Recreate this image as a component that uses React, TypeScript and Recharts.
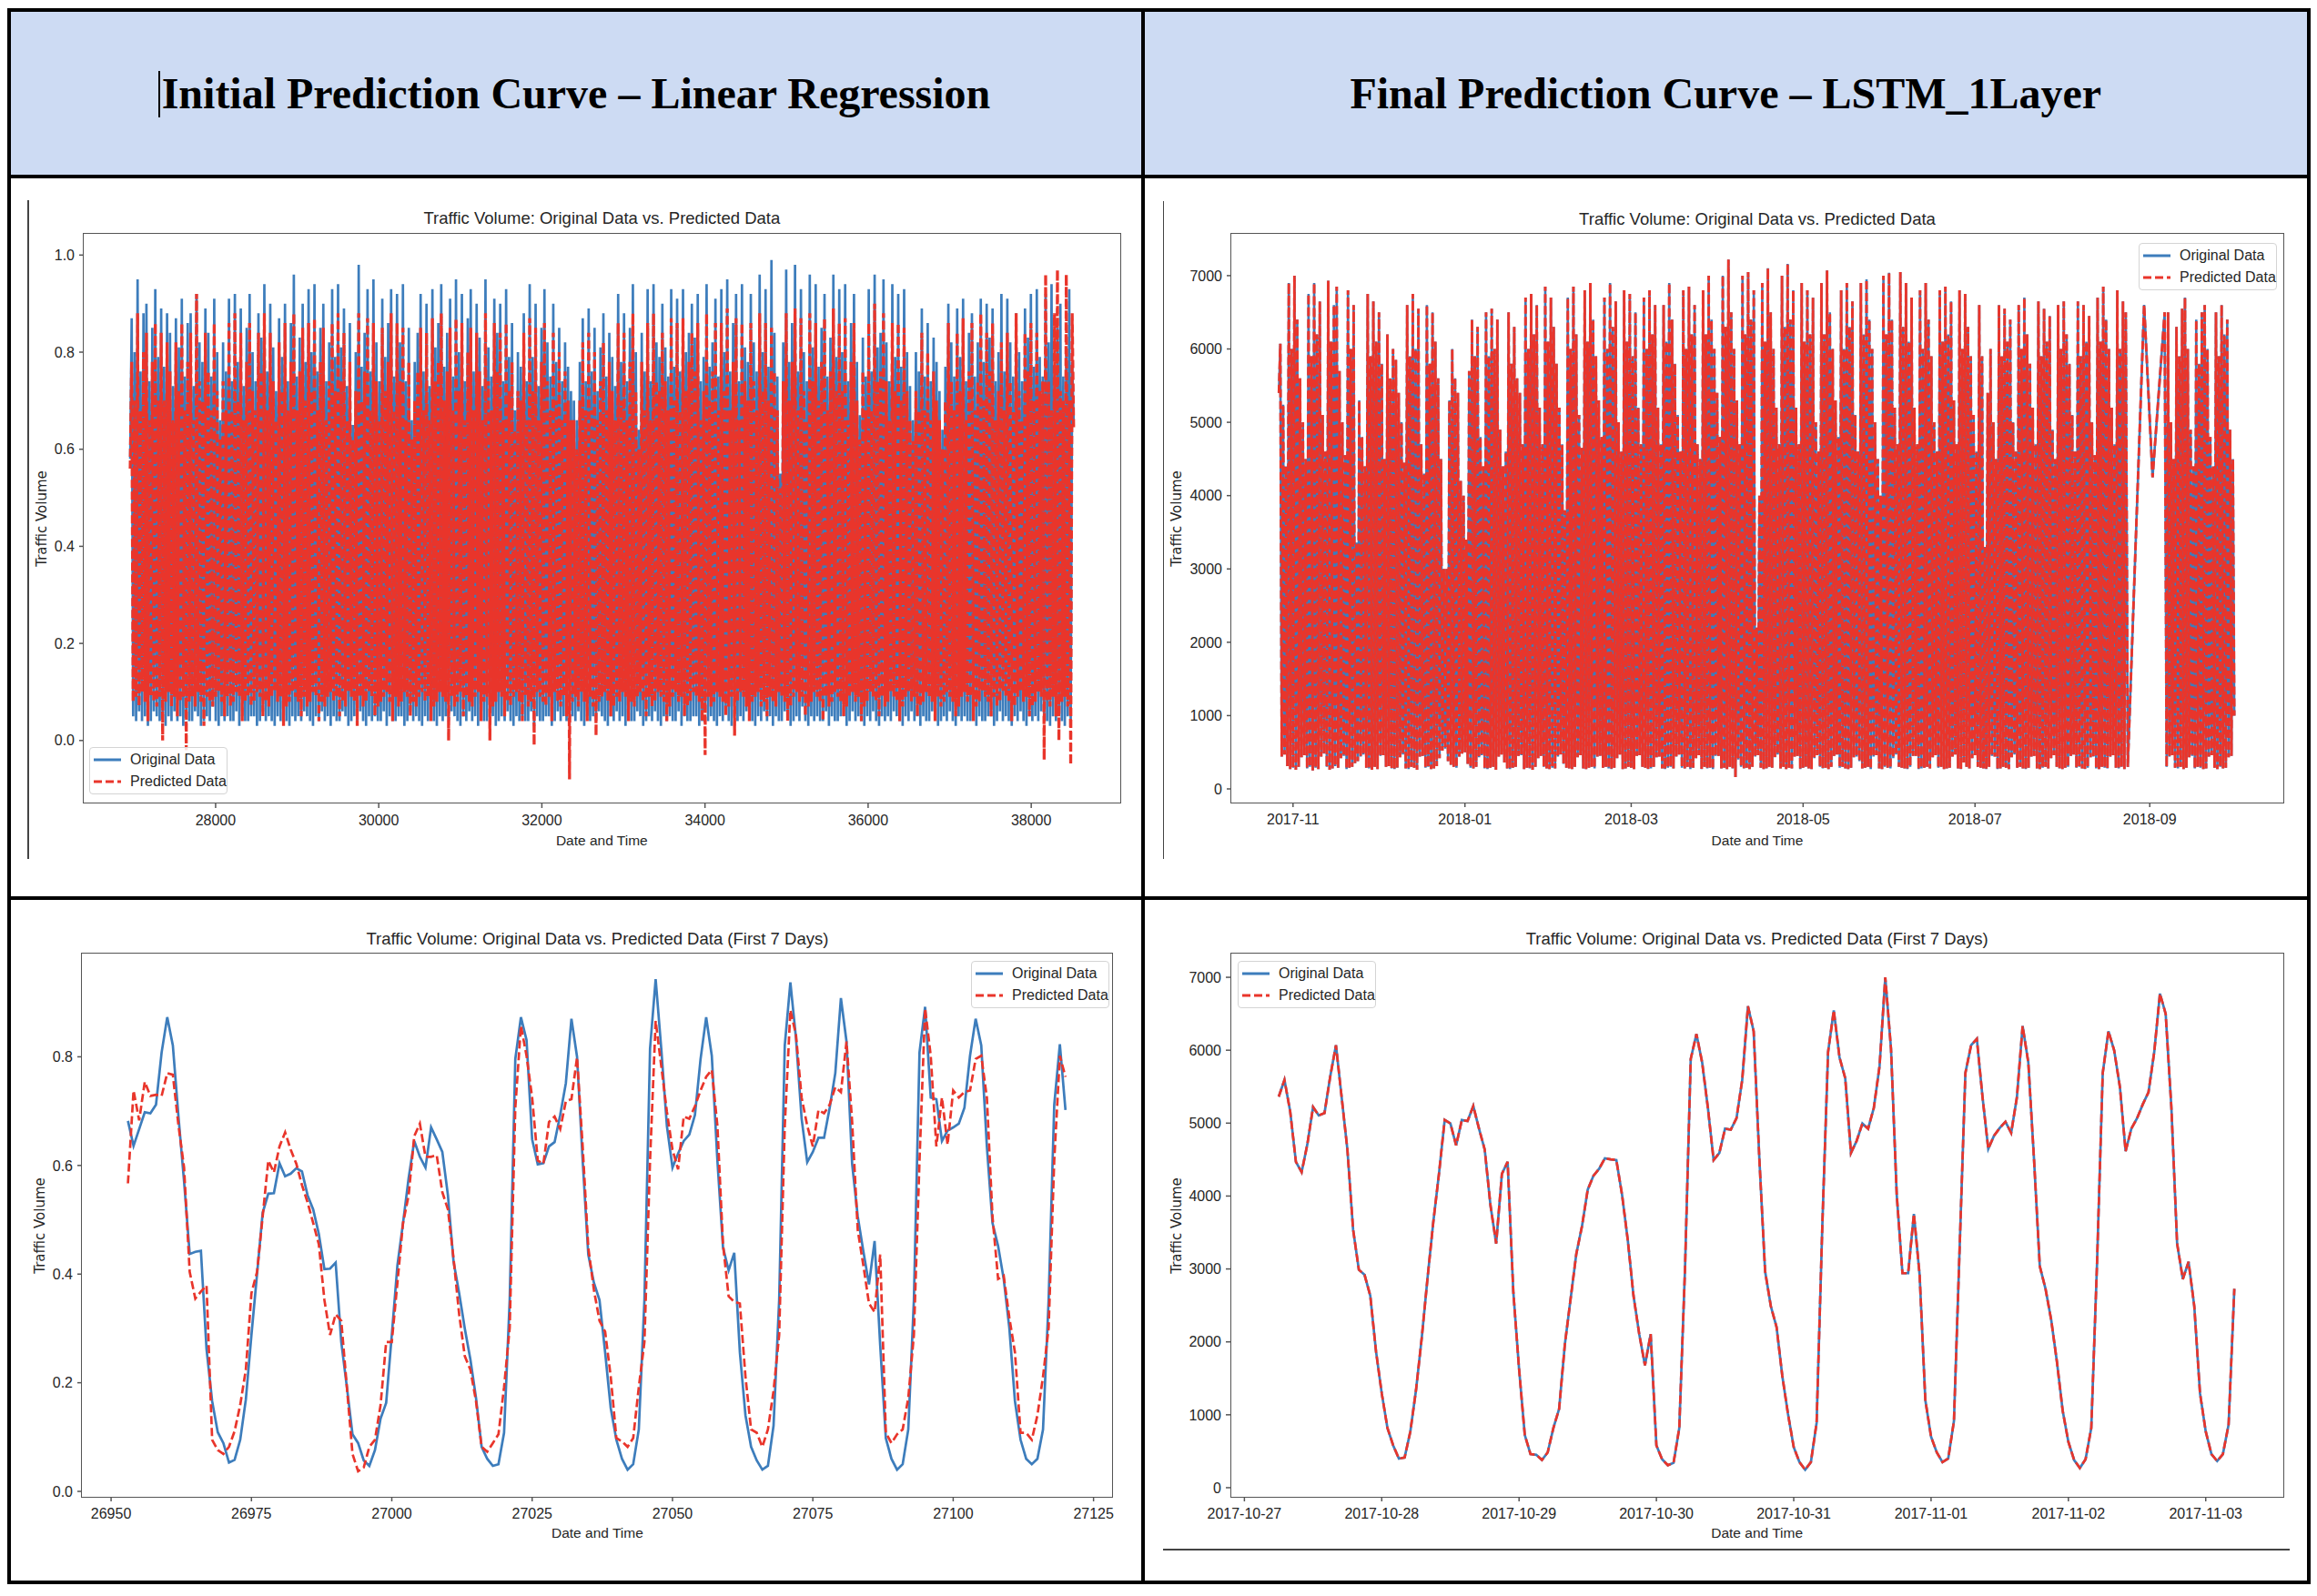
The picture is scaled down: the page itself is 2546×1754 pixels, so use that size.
import React from "react";
import { LineChart, Line, XAxis, YAxis, Legend } from "recharts";

// Linear regression, whole test range (x = sample index). Each daily swing is kept as one
// trough + one peak, values in hundredths, read off the dense envelope of the picture.
const lrFullStart = 26953;
const lrFullEnd = 38520;
const lrFullOriginalPeaks = [
  87, 80, 95, 76, 88, 90, 74, 85, 93, 79, 89, 77, 88, 84, 73, 87, 81, 91, 75, 86,
  88, 73, 92, 82, 78, 89, 84, 75, 91, 80, 66, 82, 76, 91, 74, 92, 78, 89, 73, 85,
  92, 80, 74, 88, 83, 94, 76, 90, 81, 72, 87, 79, 90, 74, 86, 96, 75, 83, 90, 78,
  93, 80, 94, 76, 85, 90, 74, 82, 93, 79, 94, 81, 89, 73, 86, 65, 80, 98, 77, 84,
  93, 76, 95, 82, 74, 91, 79, 86, 93, 75, 92, 82, 94, 74, 85, 66, 78, 84, 92, 76,
  90, 73, 93, 81, 86, 94, 77, 84, 91, 75, 95, 80, 92, 74, 87, 93, 76, 90, 83, 73,
  95, 81, 75, 91, 84, 90, 74, 93, 79, 86, 68, 80, 77, 88, 74, 94, 79, 90, 73, 85,
  93, 82, 75, 90, 78, 85, 74, 82, 77, 72, 70, 66, 78, 87, 74, 89, 76, 85, 72, 81,
  88, 75, 84, 79, 73, 92, 78, 88, 74, 85, 94, 80, 64, 84, 76, 93, 74, 94, 82, 79,
  90, 81, 75, 93, 77, 91, 76, 93, 80, 84, 90, 83, 92, 74, 79, 94, 77, 82, 91, 75,
  93, 80, 95, 76, 86, 92, 74, 94, 81, 78, 92, 82, 76, 96, 80, 93, 77, 99, 84, 75,
  55, 82, 97, 78, 86, 98, 76, 93, 80, 74, 96, 81, 94, 77, 85, 92, 75, 83, 96, 79,
  93, 80, 94, 74, 86, 92, 78, 67, 83, 75, 93, 76, 96, 81, 84, 95, 82, 74, 94, 79,
  92, 77, 93, 80, 73, 66, 80, 76, 89, 75, 86, 74, 83, 78, 72, 64, 77, 90, 82, 75,
  89, 79, 91, 74, 84, 88, 75, 82, 91, 78, 90, 83, 89, 74, 80, 92, 76, 91, 82, 75,
  88, 80, 74, 89, 83, 92, 77, 93, 79, 75, 92, 82, 94, 76, 85, 90, 75, 81, 93, 78,
];
const lrFullPredictedPeaks = [
  78, 70, 88, 68, 80, 84, 66, 78, 86, 70, 84, 70, 82, 76, 66, 82, 72, 86, 68, 78,
  84, 66, 92, 74, 70, 84, 76, 68, 86, 72, 62, 74, 68, 86, 68, 88, 70, 84, 66, 78,
  86, 72, 68, 84, 76, 88, 68, 84, 74, 66, 82, 72, 86, 68, 78, 88, 68, 76, 85, 70,
  86, 72, 87, 68, 78, 85, 66, 74, 86, 72, 88, 74, 84, 66, 78, 62, 72, 88, 70, 76,
  87, 68, 86, 74, 66, 85, 72, 78, 88, 68, 86, 74, 85, 66, 78, 62, 70, 76, 85, 68,
  84, 66, 87, 74, 78, 88, 70, 76, 85, 68, 87, 72, 86, 66, 80, 85, 68, 84, 76, 66,
  88, 74, 68, 86, 76, 84, 66, 86, 72, 78, 64, 72, 70, 84, 66, 87, 72, 85, 66, 78,
  86, 74, 68, 84, 70, 80, 66, 76, 70, 66, 66, 60, 70, 82, 68, 84, 68, 80, 66, 74,
  82, 68, 78, 72, 66, 86, 70, 84, 66, 78, 88, 72, 60, 78, 68, 86, 66, 88, 74, 72,
  84, 74, 68, 87, 70, 86, 68, 87, 72, 78, 84, 76, 86, 66, 72, 88, 70, 76, 86, 68,
  86, 72, 89, 68, 78, 87, 66, 86, 74, 70, 86, 74, 68, 88, 72, 86, 70, 85, 76, 68,
  52, 74, 88, 70, 78, 89, 68, 87, 72, 66, 88, 74, 86, 70, 78, 87, 68, 76, 89, 72,
  86, 72, 87, 66, 78, 86, 70, 62, 76, 68, 86, 68, 90, 74, 76, 88, 74, 66, 86, 72,
  86, 70, 85, 72, 66, 62, 72, 68, 84, 68, 80, 66, 76, 70, 66, 60, 70, 86, 74, 68,
  84, 72, 87, 66, 76, 86, 68, 74, 88, 70, 84, 76, 86, 66, 72, 82, 68, 84, 74, 68,
  88, 72, 66, 84, 76, 86, 70, 84, 72, 74, 96, 74, 68, 88, 97, 72, 70, 96, 70, 88,
];
const lrFullOriginalTroughs = [
  58, 5, 4, 6, 4, 5, 3, 4, 6, 5, 4, 5, 3, 5, 4, 6, 4, 5, 3, 5,
  4, 4, 6, 5, 3, 4, 5, 4, 7, 4, 3, 5, 4, 5, 4, 4, 6, 3, 5, 4,
  4, 5, 5, 3, 4, 6, 4, 5, 4, 3, 5, 4, 6, 4, 3, 5, 4, 5, 4, 6,
  5, 4, 3, 5, 4, 6, 4, 5, 3, 5, 4, 4, 6, 5, 3, 4, 5, 4, 6, 4,
  3, 5, 4, 5, 4, 4, 6, 3, 5, 4, 4, 5, 5, 3, 4, 6, 4, 5, 4, 3,
  5, 4, 6, 4, 3, 5, 4, 5, 4, 6, 5, 4, 3, 5, 4, 6, 4, 5, 3, 5,
  4, 4, 6, 5, 3, 4, 5, 4, 6, 4, 3, 5, 4, 5, 4, 4, 6, 3, 5, 4,
  4, 5, 5, 3, 4, 6, 4, 5, 4, 3, 5, 4, 6, 4, 3, 5, 4, 5, 4, 6,
  5, 4, 3, 5, 4, 6, 4, 5, 3, 5, 4, 4, 6, 5, 3, 4, 5, 4, 6, 4,
  3, 5, 4, 5, 4, 4, 6, 3, 5, 4, 4, 5, 5, 3, 4, 6, 4, 5, 4, 3,
  5, 4, 6, 4, 3, 5, 4, 5, 4, 6, 5, 4, 3, 5, 4, 6, 4, 5, 3, 5,
  4, 4, 6, 5, 3, 4, 5, 4, 7, 4, 3, 5, 4, 5, 4, 4, 6, 3, 5, 4,
  4, 5, 5, 3, 4, 6, 4, 5, 4, 3, 5, 4, 6, 4, 3, 5, 4, 5, 4, 6,
  5, 4, 3, 5, 4, 6, 4, 5, 3, 5, 4, 4, 6, 5, 3, 4, 5, 4, 6, 4,
  3, 5, 4, 5, 4, 4, 6, 3, 5, 4, 4, 5, 5, 3, 4, 6, 4, 5, 4, 3,
  5, 4, 6, 4, 3, 5, 4, 5, 4, 6, 5, 4, 3, 5, 4, 6, 4, 3, 5, 4,
  66,
];
const lrFullPredictedTroughs = [
  56, 8, 9, 7, 10, 8, 4, 9, 8, 7, 9, 0, 8, 10, 7, 9, 5, 8, 9, -2,
  8, 9, 7, 10, 8, 3, 9, 8, 7, 9, 10, 8, 5, 9, 7, 8, 10, 9, 4, 8,
  9, 7, 8, 10, 9, 5, 8, 7, 9, 10, 8, 9, 3, 7, 8, 10, 9, 8, 5, 9,
  7, 8, 10, 9, 4, 8, 7, 9, 10, 8, 9, 5, 8, 7, 10, 9, 8, 3, 9, 7,
  8, 10, 9, 5, 7, 8, 9, 10, 8, 4, 9, 7, 8, 10, 9, 5, 8, 7, 9, 10,
  8, 9, 4, 7, 8, 10, 9, 8, 0, 9, 7, 8, 10, 5, 9, 8, 7, 9, 10, 4,
  8, 9, 0, 7, 8, 10, 9, 5, 8, 7, 9, 10, 8, 4, 9, 7, 8, -1, 10, 9,
  8, 7, 9, 4, 10, 8, 7, 9, 5, -8, 8, 9, 7, 10, 8, 4, 9, 7, 1, 8,
  9, 10, 8, 5, 7, 9, 8, 10, 9, 4, 8, 7, 9, 10, 8, 5, 9, 7, 8, 10,
  9, 8, 4, 7, 9, 10, 8, 9, 5, 7, 8, 10, 9, 8, 4, -3, 9, 7, 8, 10,
  9, 8, 5, 7, 9, 1, 8, 10, 9, 7, 4, 8, 9, 10, 7, 8, 5, 9, 8, 7,
  10, 9, 8, 4, 7, 9, 10, 8, 9, 5, 7, 8, 10, 9, 8, 4, 9, 7, 8, 10,
  9, 8, 5, 7, 9, 10, 8, 9, 4, 7, 8, 10, 9, 8, 5, 9, 7, 8, 10, 9,
  8, 4, 7, 9, 10, 8, 9, 5, 7, 8, 10, 9, 8, 4, 9, 7, 8, 10, 9, 8,
  5, 7, 9, 10, 8, 9, 4, 7, 8, 10, 9, 8, 5, 9, 7, 8, 10, 9, 8, 4,
  7, 9, 10, 8, 9, 5, 7, 8, 10, 9, -4, 8, 7, 9, 5, 0, 8, 9, 7, -5,
  64,
];
const lrFullXTicks = [28000, 30000, 32000, 34000, 36000, 38000];
const lrFullYTicks = [0, 0.2, 0.4, 0.6, 0.8, 1.0];

// Linear regression, first 7 days (hourly samples)
const lrWeekStart = 26953;
const lrWeekOriginal = [
  0.682, 0.636, 0.667, 0.698, 0.696, 0.712, 0.808, 0.873, 0.821, 0.69,
  0.57, 0.437, 0.441, 0.443, 0.262, 0.166, 0.109, 0.089, 0.053, 0.058,
  0.095, 0.169, 0.288, 0.4, 0.513, 0.548, 0.549, 0.604, 0.58, 0.585,
  0.595, 0.589, 0.545, 0.519, 0.474, 0.409, 0.41, 0.421, 0.275, 0.192,
  0.105, 0.089, 0.057, 0.047, 0.076, 0.134, 0.163, 0.288, 0.416, 0.494,
  0.577, 0.645, 0.616, 0.596, 0.67, 0.648, 0.625, 0.545, 0.423, 0.365,
  0.3, 0.243, 0.172, 0.082, 0.06, 0.047, 0.05, 0.108, 0.352, 0.796,
  0.873, 0.831, 0.648, 0.602, 0.604, 0.635, 0.643, 0.693, 0.751, 0.87,
  0.8, 0.609, 0.436, 0.384, 0.352, 0.256, 0.153, 0.095, 0.06, 0.04,
  0.05, 0.114, 0.352, 0.815, 0.943, 0.815, 0.673, 0.596, 0.622, 0.645,
  0.657, 0.693, 0.796, 0.873, 0.802, 0.609, 0.449, 0.407, 0.439, 0.256,
  0.14, 0.082, 0.057, 0.04, 0.047, 0.121, 0.352, 0.821, 0.937, 0.834,
  0.686, 0.606, 0.625, 0.651, 0.651, 0.706, 0.77, 0.908, 0.828, 0.603,
  0.506, 0.442, 0.381, 0.461, 0.269, 0.098, 0.06, 0.04, 0.05, 0.114,
  0.352, 0.808, 0.892, 0.725, 0.722, 0.645, 0.664, 0.67, 0.677, 0.706,
  0.802, 0.87, 0.821, 0.635, 0.494, 0.452, 0.391, 0.301, 0.166, 0.095,
  0.06, 0.05, 0.06, 0.114, 0.352, 0.712, 0.823, 0.702,
];
const lrWeekPredicted = [
  0.567, 0.738, 0.683, 0.754, 0.728, 0.73, 0.728, 0.77, 0.767, 0.674,
  0.596, 0.404, 0.355, 0.368, 0.379, 0.095, 0.076, 0.069, 0.082, 0.111,
  0.159, 0.224, 0.365, 0.404, 0.506, 0.609, 0.587, 0.635, 0.661, 0.629,
  0.603, 0.564, 0.532, 0.494, 0.455, 0.352, 0.288, 0.326, 0.314, 0.192,
  0.069, 0.037, 0.044, 0.082, 0.095, 0.159, 0.275, 0.275, 0.384, 0.494,
  0.545, 0.654, 0.677, 0.616, 0.616, 0.619, 0.551, 0.519, 0.429, 0.326,
  0.249, 0.224, 0.166, 0.082, 0.073, 0.089, 0.105, 0.192, 0.301, 0.706,
  0.857, 0.802, 0.725, 0.609, 0.603, 0.68, 0.69, 0.667, 0.718, 0.722,
  0.799, 0.635, 0.449, 0.371, 0.314, 0.294, 0.211, 0.098, 0.092, 0.082,
  0.098, 0.192, 0.275, 0.609, 0.866, 0.783, 0.699, 0.629, 0.593, 0.69,
  0.686, 0.709, 0.738, 0.763, 0.776, 0.673, 0.455, 0.359, 0.349, 0.346,
  0.211, 0.114, 0.108, 0.082, 0.114, 0.185, 0.288, 0.673, 0.886, 0.84,
  0.725, 0.673, 0.635, 0.702, 0.696, 0.712, 0.744, 0.735, 0.828, 0.68,
  0.481, 0.416, 0.346, 0.33, 0.436, 0.108, 0.089, 0.105, 0.114, 0.172,
  0.288, 0.609, 0.889, 0.802, 0.635, 0.725, 0.638, 0.738, 0.725, 0.735,
  0.738, 0.796, 0.802, 0.725, 0.506, 0.391, 0.397, 0.32, 0.256, 0.108,
  0.108, 0.095, 0.14, 0.211, 0.301, 0.609, 0.802, 0.763,
];
const lrWeekXTicks = [26950, 26975, 27000, 27025, 27050, 27075, 27100, 27125];
const lrWeekYTicks = [0, 0.2, 0.4, 0.6, 0.8];

// LSTM, whole test range (x = days from 2017-11-01; one swing per day, values in tens).
// The prediction lies on the original within a line width, so both traces use these readings.
const lstmRunAStart = -5;
const lstmRunAPeaks = [
  607, 524, 440,
  690, 600, 700, 640, 560, 500, 450,
  675, 590, 690, 620, 665, 510, 460,
  693, 610, 660, 685, 570, 500, 455,
  680, 600, 660, 336, 530, 480, 440,
  675, 590, 665, 610, 650, 580, 450,
  620, 560, 600, 585, 540, 500, 445,
  660, 590, 675, 600, 655, 470, 430,
  660, 580, 650, 610, 560, 450, 300,
  300, 530, 600, 560, 540, 420, 400,
  340, 570, 640, 590, 630, 480, 440,
  650, 590, 655, 600, 640, 490, 440,
  460, 650, 580, 630, 560, 540, 470,
  670, 600, 675, 620, 660, 520, 470,
  685, 610, 670, 630, 580, 520, 470,
  380, 670, 600, 685, 620, 510, 465,
  680, 610, 690, 640, 590, 530, 480,
  670, 600, 690, 630, 665, 500, 460,
  680, 610, 675, 590, 650, 520, 470,
  670, 600, 680, 620, 660, 520, 470,
  660, 610, 690, 640, 580, 510, 460,
  680, 600, 685, 620, 660, 470, 450,
  680, 620, 700, 640, 600, 540, 480,
  700, 630, 722, 650, 600, 530, 470,
  700, 620, 705, 640, 680, 220, 400,
  690, 610, 710, 650, 600, 520, 470,
  700, 630, 716, 640, 680, 520, 470,
  690, 610, 680, 620, 670, 500, 460,
  690, 620, 707, 650, 600, 530, 480,
  680, 600, 690, 630, 665, 510, 460,
  690, 620, 695, 640, 600, 500, 450,
  400, 700, 620, 704, 640, 520, 470,
  705, 630, 690, 610, 670, 520, 470,
  680, 600, 690, 640, 590, 500, 460,
  680, 610, 685, 620, 665, 530, 470,
  680, 600, 675, 630, 590, 510, 460,
  660, 590, 330, 540, 600, 500, 450,
  660, 590, 655, 610, 640, 500, 460,
  660, 600, 670, 620, 580, 520, 470,
  665, 590, 655, 610, 645, 490, 450,
  660, 600, 665, 620, 580, 510, 460,
  665, 590, 660, 610, 645, 500, 455,
  670, 610, 685, 640, 600, 520, 470,
  680, 600, 665, 650,
];
const lstmRunATroughs = [
  540, 44, 47,
  31, 27, 29, 26, 30, 43, 46,
  28, 30, 25, 29, 27, 44, 48,
  30, 26, 28, 31, 29, 42, 45,
  27, 29, 30, 35, 38, 44, 47,
  29, 28, 26, 30, 27, 45, 46,
  30, 31, 28, 27, 29, 43, 47,
  28, 27, 30, 29, 26, 44, 45,
  29, 30, 27, 28, 31, 42, 52,
  55, 38, 33, 30, 29, 44, 48,
  50, 34, 29, 28, 30, 43, 46,
  28, 27, 29, 30, 26, 44, 47,
  36, 28, 27, 29, 30, 45, 46,
  27, 29, 28, 26, 30, 42, 45,
  30, 28, 27, 29, 28, 44, 47,
  34, 29, 28, 27, 30, 43, 46,
  28, 27, 29, 30, 28, 44, 45,
  29, 30, 28, 27, 29, 42, 47,
  27, 28, 30, 29, 27, 45, 46,
  30, 29, 27, 28, 30, 43, 44,
  28, 27, 29, 30, 28, 44, 47,
  29, 28, 30, 27, 29, 42, 46,
  27, 30, 28, 29, 27, 45, 45,
  28, 29, 27, 30, 28, 16, 40,
  30, 28, 29, 27, 30, 44, 46,
  29, 27, 28, 30, 29, 43, 47,
  28, 30, 27, 29, 28, 44, 45,
  27, 29, 30, 28, 27, 42, 46,
  30, 28, 29, 27, 30, 45, 47,
  29, 30, 28, 27, 29, 43, 44,
  38, 28, 29, 30, 27, 44, 46,
  28, 27, 30, 29, 28, 42, 47,
  30, 29, 28, 27, 30, 45, 45,
  27, 28, 29, 30, 28, 43, 46,
  29, 30, 27, 28, 29, 44, 47,
  28, 27, 36, 30, 28, 42, 46,
  30, 29, 28, 27, 30, 45, 44,
  27, 28, 30, 29, 27, 43, 47,
  29, 30, 28, 27, 29, 44, 45,
  28, 27, 29, 30, 28, 42, 46,
  30, 28, 27, 29, 30, 45, 47,
  29, 30, 28, 27, 29, 43, 44,
  28, 27, 30, 29, 28, 44, 46,
  29, 28, 30, 27,
];
const lstmGapDays = [296.2, 302, 305, 309.3];
const lstmGapVolumes = [30, 660, 425, 650];
const lstmRunBStart = 310;
const lstmRunBPeaks = [
  650, 500, 450, 630, 590, 655, 670, 600, 490, 440, 640, 580,
  650, 660, 600, 480, 440, 650, 590, 660, 620, 640, 490, 450,
];
const lstmRunBTroughs = [
  30, 44, 46, 29, 28, 30, 27, 29, 43, 45, 28, 30,
  29, 27, 28, 44, 46, 29, 27, 30, 28, 29, 43, 45, 100,
];
const lstmMonthTicks = [0, 61, 120, 181, 242, 304];
const lstmMonthLabels = ["2017-11", "2018-01", "2018-03", "2018-05", "2018-07", "2018-09"];
const lstmVolumeTicks = [0, 1000, 2000, 3000, 4000, 5000, 6000, 7000];

// LSTM, first 7 days (hourly from 2017-10-27 06:00; x = days from 2017-10-27)
const lstmWeekStartDay = 0.25;
const lstmWeekOriginal = [
  5363, 5592, 5162, 4470, 4327, 4709, 5220, 5105, 5138, 5640,
  6069, 5353, 4637, 3539, 2990, 2919, 2632, 1869, 1296, 819,
  580, 399, 413, 771, 1344, 2060, 2871, 3635, 4303, 5043,
  4995, 4695, 5043, 5029, 5234, 4924, 4637, 3874, 3348, 4303,
  4470, 2680, 1630, 723, 461, 451, 380, 484, 819, 1081,
  1964, 2585, 3205, 3587, 4088, 4279, 4375, 4518, 4504, 4494,
  4017, 3396, 2632, 2107, 1678, 2107, 580, 389, 308, 341,
  819, 3000, 5880, 6222, 5830, 5210, 4494, 4590, 4924, 4910,
  5067, 5592, 6604, 6260, 4500, 2966, 2489, 2203, 1535, 1010,
  556, 351, 246, 351, 890, 3600, 5974, 6546, 5902, 5616,
  4590, 4757, 4995, 4924, 5210, 5782, 7000, 6021, 4017, 2942,
  2942, 3754, 2919, 1200, 699, 484, 351, 399, 914, 3300,
  5687, 6069, 6155, 5353, 4647, 4828, 4933, 5019, 4866, 5353,
  6332, 5830, 4494, 3038, 2728, 2298, 1725, 1057, 628, 380,
  270, 389, 819, 3062, 5687, 6260, 5998, 5497, 4614, 4924,
  5067, 5258, 5425, 5974, 6776, 6499, 5210, 3348, 2861, 3100,
  2489, 1296, 771, 461, 365, 461, 866, 2728,
];
const lstmWeekPredicted = lstmWeekOriginal;
const lstmWeekDayTicks = [0, 1, 2, 3, 4, 5, 6, 7];
const lstmWeekDayLabels = [
  "2017-10-27", "2017-10-28", "2017-10-29", "2017-10-30",
  "2017-10-31", "2017-11-01", "2017-11-02", "2017-11-03",
];

const SANS = '"Liberation Sans", Arial, sans-serif';
const SERIF = '"Liberation Serif", "Times New Roman", serif';
const INK = "#262626";
const FRAME = "#555555";
const BLUE = "#3d7dbc";
const RED = "#e9352b";
const DASH = "9 4";

type Row = { x: number; original: number; predicted: number };

function cycleRows(start: number, step: number, scale: number, pO: number[], tO: number[], pP: number[], tP: number[]): Row[] {
  const rows: Row[] = [];
  pO.forEach((p, k) => {
    rows.push({ x: start + k * step, original: tO[k] * scale, predicted: tP[k] * scale });
    rows.push({ x: start + (k + 0.5) * step, original: p * scale, predicted: pP[k] * scale });
  });
  const n = pO.length;
  if (tO[n] !== undefined) rows.push({ x: start + n * step, original: tO[n] * scale, predicted: tP[n] * scale });
  return rows;
}

const lrFullRows = cycleRows(
  lrFullStart,
  (lrFullEnd - lrFullStart) / lrFullOriginalPeaks.length,
  0.01,
  lrFullOriginalPeaks, lrFullOriginalTroughs, lrFullPredictedPeaks, lrFullPredictedTroughs
);
const lrWeekRows: Row[] = lrWeekOriginal.map((v, i) => ({ x: lrWeekStart + i, original: v, predicted: lrWeekPredicted[i] }));
const lstmFullRows: Row[] = [
  ...cycleRows(lstmRunAStart, 1, 10, lstmRunAPeaks, lstmRunATroughs, lstmRunAPeaks, lstmRunATroughs),
  ...lstmGapDays.map((d, i) => ({ x: d, original: lstmGapVolumes[i] * 10, predicted: lstmGapVolumes[i] * 10 })),
  ...cycleRows(lstmRunBStart, 1, 10, lstmRunBPeaks, lstmRunBTroughs, lstmRunBPeaks, lstmRunBTroughs),
];
const lstmWeekRows: Row[] = lstmWeekOriginal.map((v, i) => ({ x: lstmWeekStartDay + i / 24, original: v, predicted: lstmWeekPredicted[i] }));

const legendItems = [
  { name: "Original Data", color: BLUE, dash: undefined as string | undefined },
  { name: "Predicted Data", color: RED, dash: DASH },
];

function LegendBox() {
  return (
    <div style={{ width: 152, height: 52, boxSizing: "border-box", border: "1px solid #d4d4d4", borderRadius: 4, background: "rgba(255,255,255,0.85)", position: "relative", fontFamily: SANS, fontSize: 16, color: INK }}>
      {legendItems.map((it, i) => (
        <div key={it.name} style={{ position: "absolute", left: 4, top: 2 + i * 24, height: 22, display: "flex", alignItems: "center" }}>
          <svg width={30} height={6}>
            <line x1={0} y1={3} x2={30} y2={3} stroke={it.color} strokeWidth={3} strokeDasharray={it.dash} />
          </svg>
          <span style={{ marginLeft: 10, whiteSpace: "nowrap" }}>{it.name}</span>
        </div>
      ))}
    </div>
  );
}

type PanelConfig = {
  plot: { left: number; top: number; width: number; height: number };
  data: Row[];
  xDomain: [number, number];
  xTicks: number[];
  xFormat: (v: number) => string;
  yDomain: [number, number];
  yTicks: number[];
  yFormat: (v: number) => string;
  title: string;
  titleY: number;
  xLabelY: number;
  yLabelX: number;
  legend: { left: number; top: number };
  origWidth: number;
  predWidth: number;
};

const YW = 90;
const MT = 10;
const MR = 10;
const XH = 60;

function Panel({ cfg }: { cfg: PanelConfig }) {
  const { plot } = cfg;
  const chartLeft = plot.left - YW;
  const chartTop = plot.top - MT;
  const tickStyle = { fontFamily: SANS, fontSize: 16, fill: INK };
  return (
    <>
      <div style={{ position: "absolute", left: plot.left, top: cfg.titleY - 13, width: plot.width, height: 26, lineHeight: "26px", textAlign: "center", fontFamily: SANS, fontSize: 18.5, color: INK, whiteSpace: "nowrap" }}>
        {cfg.title}
      </div>
      <div style={{ position: "absolute", left: chartLeft, top: chartTop }}>
        <LineChart width={YW + plot.width + MR} height={MT + plot.height + XH} data={cfg.data} margin={{ top: MT, right: MR, bottom: 0, left: 0 }}>
          <XAxis type="number" dataKey="x" domain={cfg.xDomain} ticks={cfg.xTicks} tickFormatter={cfg.xFormat} interval={0} allowDataOverflow height={XH} axisLine={false} tickLine={{ stroke: FRAME, strokeWidth: 1.5 }} tickSize={5} tickMargin={8} tick={tickStyle} />
          <YAxis type="number" domain={cfg.yDomain} ticks={cfg.yTicks} tickFormatter={cfg.yFormat} interval={0} allowDataOverflow width={YW} axisLine={false} tickLine={{ stroke: FRAME, strokeWidth: 1.5 }} tickSize={5} tickMargin={5} tick={tickStyle} />
          <Line type="linear" dataKey="original" name="Original Data" stroke={BLUE} strokeWidth={cfg.origWidth} dot={false} activeDot={false} isAnimationActive={false} />
          <Line type="linear" dataKey="predicted" name="Predicted Data" stroke={RED} strokeWidth={cfg.predWidth} strokeDasharray={DASH} dot={false} activeDot={false} isAnimationActive={false} />
          <Legend verticalAlign="middle" align="center" content={() => <LegendBox />} wrapperStyle={{ left: cfg.legend.left - chartLeft, top: cfg.legend.top - chartTop, width: 152, height: 52 }} />
        </LineChart>
      </div>
      <div style={{ position: "absolute", left: plot.left - 0.75, top: plot.top - 0.75, width: plot.width + 1.5, height: plot.height + 1.5, border: `1.5px solid ${FRAME}`, boxSizing: "border-box", pointerEvents: "none" }} />
      <div style={{ position: "absolute", left: plot.left, top: cfg.xLabelY - 11, width: plot.width, height: 22, lineHeight: "22px", textAlign: "center", fontFamily: SANS, fontSize: 15.5, color: INK }}>
        Date and Time
      </div>
      <div style={{ position: "absolute", left: cfg.yLabelX, top: plot.top + plot.height / 2, transform: "translate(-50%, -50%) rotate(-90deg)", whiteSpace: "nowrap", fontFamily: '"DejaVu Sans", sans-serif', fontSize: 15, color: INK }}>
        Traffic Volume
      </div>
    </>
  );
}

const fmt1 = (v: number) => v.toFixed(1);
const fmt0 = (v: number) => String(v);

const panels: PanelConfig[] = [
  {
    plot: { left: 91.7, top: 256.7, width: 1139.3, height: 626 },
    data: lrFullRows,
    xDomain: [26383, 39095],
    xTicks: lrFullXTicks,
    xFormat: fmt0,
    yDomain: [-0.1297, 1.0437],
    yTicks: lrFullYTicks,
    yFormat: fmt1,
    title: "Traffic Volume: Original Data vs. Predicted Data",
    titleY: 240,
    xLabelY: 924,
    yLabelX: 46,
    legend: { left: 98, top: 821.5 },
    origWidth: 2.7,
    predWidth: 3.3,
  },
  {
    plot: { left: 1353, top: 257, width: 1156, height: 625 },
    data: lstmFullRows,
    xDomain: [-21.9, 351.4],
    xTicks: lstmMonthTicks,
    xFormat: (v) => lstmMonthLabels[lstmMonthTicks.indexOf(v)] ?? "",
    yDomain: [-186, 7570],
    yTicks: lstmVolumeTicks,
    yFormat: fmt0,
    title: "Traffic Volume: Original Data vs. Predicted Data",
    titleY: 241,
    xLabelY: 924,
    yLabelX: 1293,
    legend: { left: 2350, top: 266.5 },
    origWidth: 2.6,
    predWidth: 2.9,
  },
  {
    plot: { left: 90.1, top: 1048, width: 1132.6, height: 597 },
    data: lrWeekRows,
    xDomain: [26944.8, 27128.4],
    xTicks: lrWeekXTicks,
    xFormat: fmt0,
    yDomain: [-0.01, 0.99],
    yTicks: lrWeekYTicks,
    yFormat: fmt1,
    title: "Traffic Volume: Original Data vs. Predicted Data (First 7 Days)",
    titleY: 1032,
    xLabelY: 1685,
    yLabelX: 44,
    legend: { left: 1067, top: 1056 },
    origWidth: 2.7,
    predWidth: 2.7,
  },
  {
    plot: { left: 1352.3, top: 1048, width: 1156.7, height: 597 },
    data: lstmWeekRows,
    xDomain: [-0.102, 7.563],
    xTicks: lstmWeekDayTicks,
    xFormat: (v) => lstmWeekDayLabels[lstmWeekDayTicks.indexOf(v)] ?? "",
    yDomain: [-125, 7325],
    yTicks: lstmVolumeTicks,
    yFormat: fmt0,
    title: "Traffic Volume: Original Data vs. Predicted Data (First 7 Days)",
    titleY: 1032,
    xLabelY: 1685,
    yLabelX: 1293,
    legend: { left: 1360, top: 1056 },
    origWidth: 2.7,
    predWidth: 2.7,
  },
];

const headers = [
  { text: "Initial Prediction Curve \u2013 Linear Regression", left: 12, width: 1242 },
  { text: "Final Prediction Curve \u2013 LSTM_1Layer", left: 1257.5, width: 1277.5 },
];

const abs = (left: number, top: number, width: number, height: number, background: string): React.CSSProperties => ({
  position: "absolute", left, top, width, height, background,
});

export default function App() {
  return (
    <div style={{ position: "absolute", left: 0, top: 0, width: 2546, height: 1754, background: "#ffffff", overflow: "hidden" }}>
      <div style={abs(12, 13, 2523, 179, "#cddbf3")} />
      {headers.map((h) => (
        <div key={h.text} style={{ position: "absolute", left: h.left, top: 79, width: h.width, textAlign: "center", fontFamily: SERIF, fontWeight: 700, fontSize: 48, lineHeight: "48px", color: "#000", whiteSpace: "nowrap" }}>
          {h.text}
        </div>
      ))}
      <div style={abs(174, 78, 2, 51, "#000")} />
      <div style={{ position: "absolute", left: 8, top: 9, width: 2531, height: 1732, border: "4px solid #000", boxSizing: "border-box" }} />
      <div style={abs(8, 192, 2531, 4, "#000")} />
      <div style={abs(8, 985, 2531, 4, "#000")} />
      <div style={abs(1254, 9, 3.5, 1732, "#000")} />
      <div style={abs(30, 220, 1.5, 724, "#444")} />
      <div style={abs(1277.5, 221, 1.5, 723, "#444")} />
      <div style={abs(1278, 1702, 1238, 1.5, "#444")} />
      {panels.map((p, i) => (
        <Panel key={i} cfg={p} />
      ))}
    </div>
  );
}
